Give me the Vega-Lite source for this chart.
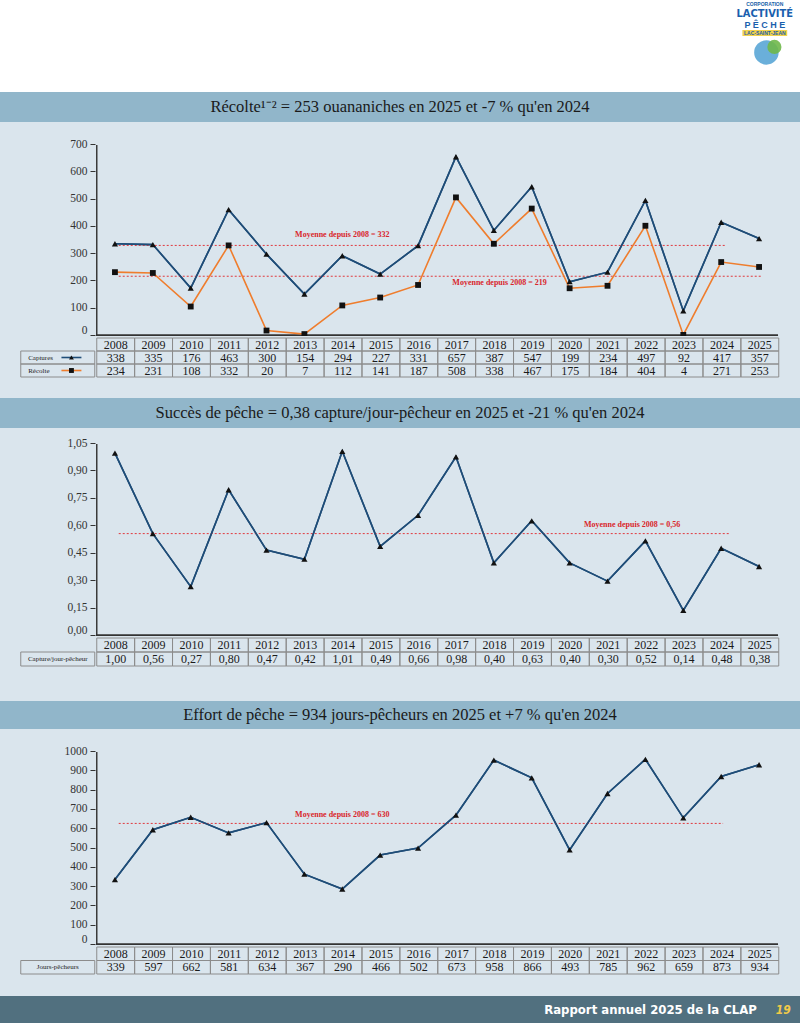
{
  "$schema": "https://vega.github.io/schema/vega-lite/v6.json",
  "background": "#dae5ed",
  "padding": 0,
  "spacing": 0,
  "center": true,
  "config": {
    "view": {"stroke": null},
    "font": "Liberation Serif",
    "locale": {"number": {"decimal": ",", "thousands": " ", "grouping": [3], "currency": ["", " $"]}},
    "axisY": {"domain": false, "grid": false, "tickSize": 5, "tickColor": "#333", "tickWidth": 1, "translate": -0.5, "labelFont": "Liberation Serif", "labelFontSize": 11.5, "labelColor": "#333", "labelPadding": 3, "labelFlush": true, "title": null}
  },
  "datasets": {
    "recolte": [
      {"year": 2008, "captures": 338, "recolte": 234},
      {"year": 2009, "captures": 335, "recolte": 231},
      {"year": 2010, "captures": 176, "recolte": 108},
      {"year": 2011, "captures": 463, "recolte": 332},
      {"year": 2012, "captures": 300, "recolte": 20},
      {"year": 2013, "captures": 154, "recolte": 7},
      {"year": 2014, "captures": 294, "recolte": 112},
      {"year": 2015, "captures": 227, "recolte": 141},
      {"year": 2016, "captures": 331, "recolte": 187},
      {"year": 2017, "captures": 657, "recolte": 508},
      {"year": 2018, "captures": 387, "recolte": 338},
      {"year": 2019, "captures": 547, "recolte": 467},
      {"year": 2020, "captures": 199, "recolte": 175},
      {"year": 2021, "captures": 234, "recolte": 184},
      {"year": 2022, "captures": 497, "recolte": 404},
      {"year": 2023, "captures": 92, "recolte": 4},
      {"year": 2024, "captures": 417, "recolte": 271},
      {"year": 2025, "captures": 357, "recolte": 253}
    ],
    "succes": [
      {"year": 2008, "succes": 1.00},
      {"year": 2009, "succes": 0.56},
      {"year": 2010, "succes": 0.27},
      {"year": 2011, "succes": 0.80},
      {"year": 2012, "succes": 0.47},
      {"year": 2013, "succes": 0.42},
      {"year": 2014, "succes": 1.01},
      {"year": 2015, "succes": 0.49},
      {"year": 2016, "succes": 0.66},
      {"year": 2017, "succes": 0.98},
      {"year": 2018, "succes": 0.40},
      {"year": 2019, "succes": 0.63},
      {"year": 2020, "succes": 0.40},
      {"year": 2021, "succes": 0.30},
      {"year": 2022, "succes": 0.52},
      {"year": 2023, "succes": 0.14},
      {"year": 2024, "succes": 0.48},
      {"year": 2025, "succes": 0.38}
    ],
    "effort": [
      {"year": 2008, "jours": 339},
      {"year": 2009, "jours": 597},
      {"year": 2010, "jours": 662},
      {"year": 2011, "jours": 581},
      {"year": 2012, "jours": 634},
      {"year": 2013, "jours": 367},
      {"year": 2014, "jours": 290},
      {"year": 2015, "jours": 466},
      {"year": 2016, "jours": 502},
      {"year": 2017, "jours": 673},
      {"year": 2018, "jours": 958},
      {"year": 2019, "jours": 866},
      {"year": 2020, "jours": 493},
      {"year": 2021, "jours": 785},
      {"year": 2022, "jours": 962},
      {"year": 2023, "jours": 659},
      {"year": 2024, "jours": 873},
      {"year": 2025, "jours": 934}
    ]
  },
  "vconcat": [
    {
      "width": 800, "height": 92,
      "view": {"fill": "#ffffff", "stroke": null},
      "layer": [
        {"data": {"values": [{"t": "CORPORATION"}]}, "mark": {"type": "text", "fontSize": 5, "fontWeight": "bold", "font": "Liberation Sans", "color": "#1c5fa8", "baseline": "middle"},
         "encoding": {"text": {"field": "t"}, "x": {"datum": 0.956, "type": "quantitative", "scale": {"domain": [0, 1]}, "axis": null}, "y": {"datum": 0.04, "type": "quantitative", "scale": {"domain": [0, 1], "reverse": true}, "axis": null}}},
        {"data": {"values": [{"t": "LACTIVITÉ"}]}, "mark": {"type": "text", "fontSize": 11, "fontWeight": "bold", "font": "Liberation Sans Narrow, DejaVu Sans Condensed, Roboto", "color": "#1a5fae", "baseline": "middle"},
         "encoding": {"text": {"field": "t"}, "x": {"datum": 0.956, "axis": null}, "y": {"datum": 0.155, "axis": null}}},
        {"data": {"values": [{"t": "P Ê C H E"}]}, "mark": {"type": "text", "fontSize": 9, "fontWeight": "bold", "font": "Liberation Sans", "color": "#1a5fae", "baseline": "middle"},
         "encoding": {"text": {"field": "t"}, "x": {"datum": 0.956, "axis": null}, "y": {"datum": 0.27, "axis": null}}},
        {"data": {"values": [{"t": "LAC-SAINT-JEAN"}]}, "mark": {"type": "rect", "color": "#f2d24c"},
         "encoding": {"x": {"datum": 0.928, "axis": null}, "x2": {"datum": 0.984}, "y": {"datum": 0.325, "axis": null}, "y2": {"datum": 0.39}}},
        {"data": {"values": [{"t": "LAC-SAINT-JEAN"}]}, "mark": {"type": "text", "fontSize": 5, "fontWeight": "bold", "font": "Liberation Sans", "color": "#1c5fa8", "baseline": "middle"},
         "encoding": {"text": {"field": "t"}, "x": {"datum": 0.956, "axis": null}, "y": {"datum": 0.357, "axis": null}}},
        {"data": {"values": [{"t": "logo"}]}, "mark": {"type": "point", "shape": "circle", "filled": true, "color": "#5aa6d6", "size": 600, "opacity": 0.9},
         "encoding": {"x": {"datum": 0.958, "axis": null}, "y": {"datum": 0.57, "axis": null}}},
        {"data": {"values": [{"t": "logo"}]}, "mark": {"type": "point", "shape": "circle", "filled": true, "color": "#6fb84a", "size": 200, "opacity": 0.9},
         "encoding": {"x": {"datum": 0.968, "axis": null}, "y": {"datum": 0.51, "axis": null}}}
      ]
    },
    {
      "width": 800, "height": 30,
      "view": {"fill": "#91b6ca", "stroke": null},
      "data": {"values": [{"t": "Récolte¹⁻² = 253 ouananiches en 2025 et -7 % qu'en 2024"}]},
      "mark": {"type": "text", "font": "Liberation Serif", "fontSize": 16.5, "color": "#1a1a1a", "baseline": "middle"},
      "encoding": {"text": {"field": "t"}, "x": {"datum": 0.5, "type": "quantitative", "scale": {"domain": [0, 1]}, "axis": null}, "y": {"datum": 0.5, "type": "quantitative", "scale": {"domain": [0, 1]}, "axis": null}}
    },
    {
      "spacing": 0,
      "bounds": "flush",
      "hconcat": [
        {"width": 96, "height": 214, "view": {"fill": "#dae5ed", "stroke": null}, "data": {"values": []}, "mark": "point"},
        {
          "width": 704, "height": 214,
          "layer": [
            {"data": {"name": "recolte"}, "mark": {"type": "line", "color": "#1f4d78", "strokeWidth": 1.6, "clip": true},
             "encoding": {
               "x": {"field": "year", "type": "quantitative", "scale": {"domain": [2007.5, 2026.08], "nice": false, "zero": false}, "axis": null},
               "y": {"field": "captures", "type": "quantitative", "scale": {"domain": [0, 784.3], "nice": false, "zero": false},
                     "axis": {"values": [0, 100, 200, 300, 400, 500, 600, 700], "format": "d", "title": null}}
             }},
            {"data": {"values": [{}]}, "mark": {"type": "rule", "color": "#3a3a3a", "strokeWidth": 3, "clip": true},
             "encoding": {"x": {"datum": 2007.5, "axis": null}, "y": {"datum": 0, "axis": {"values": [0, 100, 200, 300, 400, 500, 600, 700], "format": "d", "title": null}}, "y2": {"datum": 700}}},
            {"data": {"values": [{}]}, "mark": {"type": "rule", "color": "#333333", "strokeWidth": 3.5, "clip": true},
             "encoding": {"x": {"datum": 2007.5, "axis": null}, "x2": {"datum": 2025.5}, "y": {"datum": 0, "axis": {"values": [0, 100, 200, 300, 400, 500, 600, 700], "format": "d", "title": null}}}},
            {"data": {"values": [{"m": 332}]}, "mark": {"type": "rule", "color": "#e0393e", "strokeDash": [2, 2], "strokeWidth": 1},
             "encoding": {"x": {"datum": 2008.1, "axis": null}, "x2": {"datum": 2024.1}, "y": {"field": "m", "type": "quantitative", "axis": {"values": [0, 100, 200, 300, 400, 500, 600, 700], "format": "d", "title": null}}}},
            {"data": {"values": [{"m": 219}]}, "mark": {"type": "rule", "color": "#e0393e", "strokeDash": [2, 2], "strokeWidth": 1},
             "encoding": {"x": {"datum": 2008.1, "axis": null}, "x2": {"datum": 2025.05}, "y": {"field": "m", "type": "quantitative", "axis": {"values": [0, 100, 200, 300, 400, 500, 600, 700], "format": "d", "title": null}}}},
            {"data": {"name": "recolte"}, "mark": {"type": "line", "color": "#ef7d2d", "strokeWidth": 1.6, "clip": true},
             "encoding": {"x": {"field": "year", "type": "quantitative", "axis": null}, "y": {"field": "recolte", "type": "quantitative", "axis": {"values": [0, 100, 200, 300, 400, 500, 600, 700], "format": "d", "title": null}}}},
            {"data": {"name": "recolte"}, "mark": {"type": "line", "color": "#1f4d78", "strokeWidth": 1.6, "clip": true},
             "encoding": {"x": {"field": "year", "type": "quantitative", "axis": null}, "y": {"field": "captures", "type": "quantitative", "axis": {"values": [0, 100, 200, 300, 400, 500, 600, 700], "format": "d", "title": null}}}},
            {"data": {"name": "recolte"}, "mark": {"type": "point", "shape": "triangle-up", "filled": true, "color": "#111111", "size": 38, "opacity": 1, "clip": true},
             "encoding": {"x": {"field": "year", "type": "quantitative", "axis": null}, "y": {"field": "captures", "type": "quantitative", "axis": {"values": [0, 100, 200, 300, 400, 500, 600, 700], "format": "d", "title": null}}}},
            {"data": {"name": "recolte"}, "mark": {"type": "point", "shape": "square", "filled": true, "color": "#111111", "size": 34, "opacity": 1, "clip": true},
             "encoding": {"x": {"field": "year", "type": "quantitative", "axis": null}, "y": {"field": "recolte", "type": "quantitative", "axis": {"values": [0, 100, 200, 300, 400, 500, 600, 700], "format": "d", "title": null}}}},
            {"data": {"values": [{"m": 332, "t": "Moyenne depuis 2008 = 332"}]}, "mark": {"type": "text", "font": "Liberation Serif", "fontSize": 8, "fontWeight": "bold", "color": "#d9262c", "dy": -10},
             "encoding": {"x": {"datum": 2014, "axis": null}, "y": {"field": "m", "type": "quantitative", "axis": {"values": [0, 100, 200, 300, 400, 500, 600, 700], "format": "d", "title": null}}, "text": {"field": "t"}}},
            {"data": {"values": [{"m": 219, "t": "Moyenne depuis 2008 = 219"}]}, "mark": {"type": "text", "font": "Liberation Serif", "fontSize": 8, "fontWeight": "bold", "color": "#d9262c", "dy": 7},
             "encoding": {"x": {"datum": 2018.15, "axis": null}, "y": {"field": "m", "type": "quantitative", "axis": {"values": [0, 100, 200, 300, 400, 500, 600, 700], "format": "d", "title": null}}, "text": {"field": "t"}}}
          ]
        }
      ]
    },
    {
      "spacing": 0,
      "hconcat": [
        {
          "width": 74, "height": 60,
          "data": {"values": [{"row": "captures", "label": "Captures"}, {"row": "recolte", "label": "Récolte"}]},
          "layer": [
            {"mark": {"type": "rect", "filled": false, "color": "#8c8c8c", "strokeWidth": 1},
             "encoding": {"x": {"datum": 0, "type": "quantitative", "scale": {"domain": [0, 1]}, "axis": null}, "x2": {"datum": 1},
                          "y": {"field": "row", "type": "nominal", "scale": {"domain": ["annee", "captures", "recolte"], "range": [0, 39], "paddingInner": 0, "paddingOuter": 0}, "axis": null}}},
            {"mark": {"type": "text", "align": "left", "baseline": "middle", "fontSize": 7, "font": "Liberation Serif", "color": "#222"},
             "encoding": {"x": {"datum": 0.1, "axis": null}, "y": {"field": "row", "type": "nominal", "axis": null}, "text": {"field": "label"}}},
            {"mark": {"type": "rule", "strokeWidth": 1.6},
             "encoding": {"x": {"datum": 0.55, "axis": null}, "x2": {"datum": 0.82}, "y": {"field": "row", "type": "nominal", "axis": null},
                          "color": {"field": "row", "type": "nominal", "scale": {"domain": ["captures", "recolte"], "range": ["#1f4d78", "#ef7d2d"]}, "legend": null}}},
            {"mark": {"type": "point", "filled": true, "color": "#111111", "size": 24, "opacity": 1},
             "encoding": {"x": {"datum": 0.685, "axis": null}, "y": {"field": "row", "type": "nominal", "axis": null},
                          "shape": {"field": "row", "type": "nominal", "scale": {"domain": ["captures", "recolte"], "range": ["triangle-up", "square"]}, "legend": null}}}
          ]
        },
        {
          "width": 682, "height": 60,
          "data": {"name": "recolte"},
          "layer": [
            {"mark": {"type": "rect", "filled": false, "color": "#8c8c8c", "strokeWidth": 1},
             "encoding": {"x": {"field": "year", "type": "ordinal", "scale": {"paddingInner": 0, "paddingOuter": 0}, "axis": null},
                          "y": {"datum": "annee", "type": "nominal", "scale": {"domain": ["annee", "captures", "recolte"], "range": [0, 39], "paddingInner": 0, "paddingOuter": 0}, "axis": null}}},
            {"mark": {"type": "text", "baseline": "middle", "fontSize": 12, "font": "Liberation Serif", "color": "#1a1a1a"},
             "encoding": {"x": {"field": "year", "type": "ordinal", "axis": null}, "y": {"datum": "annee", "type": "nominal", "axis": null}, "text": {"field": "year", "type": "ordinal"}}},
            {"transform": [{"fold": ["captures", "recolte"], "as": ["row", "value"]}],
             "mark": {"type": "rect", "filled": false, "color": "#8c8c8c", "strokeWidth": 1},
             "encoding": {"x": {"field": "year", "type": "ordinal", "axis": null}, "y": {"field": "row", "type": "nominal", "axis": null}}},
            {"transform": [{"fold": ["captures", "recolte"], "as": ["row", "value"]}],
             "mark": {"type": "text", "baseline": "middle", "fontSize": 12, "font": "Liberation Serif", "color": "#1a1a1a"},
             "encoding": {"x": {"field": "year", "type": "ordinal", "axis": null}, "y": {"field": "row", "type": "nominal", "axis": null}, "text": {"field": "value", "type": "quantitative", "format": "d"}}}
          ]
        }
      ]
    },
    {
      "width": 800, "height": 30,
      "view": {"fill": "#91b6ca", "stroke": null},
      "data": {"values": [{"t": "Succès de pêche = 0,38 capture/jour-pêcheur en 2025 et -21 % qu'en 2024"}]},
      "mark": {"type": "text", "font": "Liberation Serif", "fontSize": 16.5, "color": "#1a1a1a", "baseline": "middle"},
      "encoding": {"text": {"field": "t"}, "x": {"datum": 0.5, "type": "quantitative", "scale": {"domain": [0, 1]}, "axis": null}, "y": {"datum": 0.5, "type": "quantitative", "scale": {"domain": [0, 1]}, "axis": null}}
    },
    {
      "spacing": 0,
      "bounds": "flush",
      "hconcat": [
        {"width": 96, "height": 208, "view": {"fill": "#dae5ed", "stroke": null}, "data": {"values": []}, "mark": "point"},
        {
          "width": 704, "height": 208,
          "layer": [
            {"data": {"name": "succes"}, "mark": {"type": "line", "color": "#1f4d78", "strokeWidth": 1.6, "clip": true},
             "encoding": {
               "x": {"field": "year", "type": "quantitative", "scale": {"domain": [2007.5, 2026.08], "nice": false, "zero": false}, "axis": null},
               "y": {"field": "succes", "type": "quantitative", "scale": {"domain": [0, 1.1375], "nice": false, "zero": false},
                     "axis": {"values": [0, 0.15, 0.3, 0.45, 0.6, 0.75, 0.9, 1.05], "format": ".2f", "title": null}}
             }},
            {"data": {"values": [{}]}, "mark": {"type": "rule", "color": "#3a3a3a", "strokeWidth": 3, "clip": true},
             "encoding": {"x": {"datum": 2007.5, "axis": null}, "y": {"datum": 0, "axis": {"values": [0, 0.15, 0.3, 0.45, 0.6, 0.75, 0.9, 1.05], "format": ".2f", "title": null}}, "y2": {"datum": 1.05}}},
            {"data": {"values": [{}]}, "mark": {"type": "rule", "color": "#333333", "strokeWidth": 3.5, "clip": true},
             "encoding": {"x": {"datum": 2007.5, "axis": null}, "x2": {"datum": 2025.5}, "y": {"datum": 0, "axis": {"values": [0, 0.15, 0.3, 0.45, 0.6, 0.75, 0.9, 1.05], "format": ".2f", "title": null}}}},
            {"data": {"values": [{"m": 0.56}]}, "mark": {"type": "rule", "color": "#e0393e", "strokeDash": [2, 2], "strokeWidth": 1},
             "encoding": {"x": {"datum": 2008.1, "axis": null}, "x2": {"datum": 2024.2}, "y": {"field": "m", "type": "quantitative", "axis": {"values": [0, 0.15, 0.3, 0.45, 0.6, 0.75, 0.9, 1.05], "format": ".2f", "title": null}}}},
            {"data": {"name": "succes"}, "mark": {"type": "line", "color": "#1f4d78", "strokeWidth": 1.6, "clip": true},
             "encoding": {"x": {"field": "year", "type": "quantitative", "axis": null}, "y": {"field": "succes", "type": "quantitative", "axis": {"values": [0, 0.15, 0.3, 0.45, 0.6, 0.75, 0.9, 1.05], "format": ".2f", "title": null}}}},
            {"data": {"name": "succes"}, "mark": {"type": "point", "shape": "triangle-up", "filled": true, "color": "#111111", "size": 38, "opacity": 1, "clip": true},
             "encoding": {"x": {"field": "year", "type": "quantitative", "axis": null}, "y": {"field": "succes", "type": "quantitative", "axis": {"values": [0, 0.15, 0.3, 0.45, 0.6, 0.75, 0.9, 1.05], "format": ".2f", "title": null}}}},
            {"data": {"values": [{"m": 0.56, "t": "Moyenne depuis 2008 = 0,56"}]}, "mark": {"type": "text", "font": "Liberation Serif", "fontSize": 8, "fontWeight": "bold", "color": "#d9262c", "dy": -9},
             "encoding": {"x": {"datum": 2021.65, "axis": null}, "y": {"field": "m", "type": "quantitative", "axis": {"values": [0, 0.15, 0.3, 0.45, 0.6, 0.75, 0.9, 1.05], "format": ".2f", "title": null}}, "text": {"field": "t"}}}
          ]
        }
      ]
    },
    {
      "spacing": 0,
      "hconcat": [
        {
          "width": 74, "height": 63,
          "data": {"values": [{"row": "succes", "label": "Capture/jour-pêcheur"}]},
          "layer": [
            {"mark": {"type": "rect", "filled": false, "color": "#8c8c8c", "strokeWidth": 1},
             "encoding": {"x": {"datum": 0, "type": "quantitative", "scale": {"domain": [0, 1]}, "axis": null}, "x2": {"datum": 1},
                          "y": {"field": "row", "type": "nominal", "scale": {"domain": ["annee", "succes"], "range": [0, 28], "paddingInner": 0, "paddingOuter": 0}, "axis": null}}},
            {"mark": {"type": "text", "baseline": "middle", "fontSize": 7, "font": "Liberation Serif", "color": "#222"},
             "encoding": {"x": {"datum": 0.5, "axis": null}, "y": {"field": "row", "type": "nominal", "axis": null}, "text": {"field": "label"}}}
          ]
        },
        {
          "width": 682, "height": 63,
          "data": {"name": "succes"},
          "layer": [
            {"mark": {"type": "rect", "filled": false, "color": "#8c8c8c", "strokeWidth": 1},
             "encoding": {"x": {"field": "year", "type": "ordinal", "scale": {"paddingInner": 0, "paddingOuter": 0}, "axis": null},
                          "y": {"datum": "annee", "type": "nominal", "scale": {"domain": ["annee", "succes"], "range": [0, 28], "paddingInner": 0, "paddingOuter": 0}, "axis": null}}},
            {"mark": {"type": "text", "baseline": "middle", "fontSize": 12, "font": "Liberation Serif", "color": "#1a1a1a"},
             "encoding": {"x": {"field": "year", "type": "ordinal", "axis": null}, "y": {"datum": "annee", "type": "nominal", "axis": null}, "text": {"field": "year", "type": "ordinal"}}},
            {"mark": {"type": "rect", "filled": false, "color": "#8c8c8c", "strokeWidth": 1},
             "encoding": {"x": {"field": "year", "type": "ordinal", "axis": null}, "y": {"datum": "succes", "type": "nominal", "axis": null}}},
            {"mark": {"type": "text", "baseline": "middle", "fontSize": 12, "font": "Liberation Serif", "color": "#1a1a1a"},
             "encoding": {"x": {"field": "year", "type": "ordinal", "axis": null}, "y": {"datum": "succes", "type": "nominal", "axis": null}, "text": {"field": "succes", "type": "quantitative", "format": ".2f"}}}
          ]
        }
      ]
    },
    {
      "width": 800, "height": 28,
      "view": {"fill": "#91b6ca", "stroke": null},
      "data": {"values": [{"t": "Effort de pêche = 934 jours-pêcheurs en 2025 et +7 % qu'en 2024"}]},
      "mark": {"type": "text", "font": "Liberation Serif", "fontSize": 16.5, "color": "#1a1a1a", "baseline": "middle"},
      "encoding": {"text": {"field": "t"}, "x": {"datum": 0.5, "type": "quantitative", "scale": {"domain": [0, 1]}, "axis": null}, "y": {"datum": 0.5, "type": "quantitative", "scale": {"domain": [0, 1]}, "axis": null}}
    },
    {
      "spacing": 0,
      "bounds": "flush",
      "hconcat": [
        {"width": 96, "height": 216, "view": {"fill": "#dae5ed", "stroke": null}, "data": {"values": []}, "mark": "point"},
        {
          "width": 704, "height": 216,
          "layer": [
            {"data": {"name": "effort"}, "mark": {"type": "line", "color": "#1f4d78", "strokeWidth": 1.6, "clip": true},
             "encoding": {
               "x": {"field": "year", "type": "quantitative", "scale": {"domain": [2007.5, 2026.08], "nice": false, "zero": false}, "axis": null},
               "y": {"field": "jours", "type": "quantitative", "scale": {"domain": [0, 1119.2], "nice": false, "zero": false},
                     "axis": {"values": [0, 100, 200, 300, 400, 500, 600, 700, 800, 900, 1000], "format": "d", "title": null}}
             }},
            {"data": {"values": [{}]}, "mark": {"type": "rule", "color": "#3a3a3a", "strokeWidth": 3, "clip": true},
             "encoding": {"x": {"datum": 2007.5, "axis": null}, "y": {"datum": 0, "axis": {"values": [0, 100, 200, 300, 400, 500, 600, 700, 800, 900, 1000], "format": "d", "title": null}}, "y2": {"datum": 1000}}},
            {"data": {"values": [{}]}, "mark": {"type": "rule", "color": "#333333", "strokeWidth": 3.5, "clip": true},
             "encoding": {"x": {"datum": 2007.5, "axis": null}, "x2": {"datum": 2025.5}, "y": {"datum": 0, "axis": {"values": [0, 100, 200, 300, 400, 500, 600, 700, 800, 900, 1000], "format": "d", "title": null}}}},
            {"data": {"values": [{"m": 630}]}, "mark": {"type": "rule", "color": "#e0393e", "strokeDash": [2, 2], "strokeWidth": 1},
             "encoding": {"x": {"datum": 2008.1, "axis": null}, "x2": {"datum": 2024.05}, "y": {"field": "m", "type": "quantitative", "axis": {"values": [0, 100, 200, 300, 400, 500, 600, 700, 800, 900, 1000], "format": "d", "title": null}}}},
            {"data": {"name": "effort"}, "mark": {"type": "line", "color": "#1f4d78", "strokeWidth": 1.6, "clip": true},
             "encoding": {"x": {"field": "year", "type": "quantitative", "axis": null}, "y": {"field": "jours", "type": "quantitative", "axis": {"values": [0, 100, 200, 300, 400, 500, 600, 700, 800, 900, 1000], "format": "d", "title": null}}}},
            {"data": {"name": "effort"}, "mark": {"type": "point", "shape": "triangle-up", "filled": true, "color": "#111111", "size": 38, "opacity": 1, "clip": true},
             "encoding": {"x": {"field": "year", "type": "quantitative", "axis": null}, "y": {"field": "jours", "type": "quantitative", "axis": {"values": [0, 100, 200, 300, 400, 500, 600, 700, 800, 900, 1000], "format": "d", "title": null}}}},
            {"data": {"values": [{"m": 630, "t": "Moyenne depuis 2008 = 630"}]}, "mark": {"type": "text", "font": "Liberation Serif", "fontSize": 8, "fontWeight": "bold", "color": "#d9262c", "dy": -8},
             "encoding": {"x": {"datum": 2014, "axis": null}, "y": {"field": "m", "type": "quantitative", "axis": {"values": [0, 100, 200, 300, 400, 500, 600, 700, 800, 900, 1000], "format": "d", "title": null}}, "text": {"field": "t"}}}
          ]
        }
      ]
    },
    {
      "spacing": 0,
      "hconcat": [
        {
          "width": 74, "height": 48.5,
          "data": {"values": [{"row": "jours", "label": "Jours-pêcheurs"}]},
          "layer": [
            {"mark": {"type": "rect", "filled": false, "color": "#8c8c8c", "strokeWidth": 1},
             "encoding": {"x": {"datum": 0, "type": "quantitative", "scale": {"domain": [0, 1]}, "axis": null}, "x2": {"datum": 1},
                          "y": {"field": "row", "type": "nominal", "scale": {"domain": ["annee", "jours"], "range": [0, 27], "paddingInner": 0, "paddingOuter": 0}, "axis": null}}},
            {"mark": {"type": "text", "baseline": "middle", "fontSize": 7, "font": "Liberation Serif", "color": "#222"},
             "encoding": {"x": {"datum": 0.5, "axis": null}, "y": {"field": "row", "type": "nominal", "axis": null}, "text": {"field": "label"}}}
          ]
        },
        {
          "width": 682, "height": 48.5,
          "data": {"name": "effort"},
          "layer": [
            {"mark": {"type": "rect", "filled": false, "color": "#8c8c8c", "strokeWidth": 1},
             "encoding": {"x": {"field": "year", "type": "ordinal", "scale": {"paddingInner": 0, "paddingOuter": 0}, "axis": null},
                          "y": {"datum": "annee", "type": "nominal", "scale": {"domain": ["annee", "jours"], "range": [0, 27], "paddingInner": 0, "paddingOuter": 0}, "axis": null}}},
            {"mark": {"type": "text", "baseline": "middle", "fontSize": 12, "font": "Liberation Serif", "color": "#1a1a1a"},
             "encoding": {"x": {"field": "year", "type": "ordinal", "axis": null}, "y": {"datum": "annee", "type": "nominal", "axis": null}, "text": {"field": "year", "type": "ordinal"}}},
            {"mark": {"type": "rect", "filled": false, "color": "#8c8c8c", "strokeWidth": 1},
             "encoding": {"x": {"field": "year", "type": "ordinal", "axis": null}, "y": {"datum": "jours", "type": "nominal", "axis": null}}},
            {"mark": {"type": "text", "baseline": "middle", "fontSize": 12, "font": "Liberation Serif", "color": "#1a1a1a"},
             "encoding": {"x": {"field": "year", "type": "ordinal", "axis": null}, "y": {"datum": "jours", "type": "nominal", "axis": null}, "text": {"field": "jours", "type": "quantitative", "format": "d"}}}
          ]
        }
      ]
    },
    {
      "width": 800, "height": 28,
      "view": {"fill": "#51707f", "stroke": null},
      "layer": [
        {"data": {"values": [{"t": "Rapport annuel 2025 de la CLAP"}]}, "mark": {"type": "text", "font": "Liberation Sans Narrow, DejaVu Sans Condensed, Roboto", "fontWeight": "bold", "fontSize": 13, "color": "#ffffff", "align": "right", "baseline": "middle"},
         "encoding": {"text": {"field": "t"}, "x": {"datum": 0.946, "type": "quantitative", "scale": {"domain": [0, 1]}, "axis": null}, "y": {"datum": 0.5, "type": "quantitative", "scale": {"domain": [0, 1]}, "axis": null}}},
        {"data": {"values": [{"t": "19"}]}, "mark": {"type": "text", "font": "Liberation Sans Narrow, DejaVu Sans Condensed, Roboto", "fontWeight": "bold", "fontStyle": "italic", "fontSize": 12, "color": "#f0c94a", "align": "center", "baseline": "middle"},
         "encoding": {"text": {"field": "t"}, "x": {"datum": 0.979, "axis": null}, "y": {"datum": 0.5, "axis": null}}}
      ]
    }
  ]
}
